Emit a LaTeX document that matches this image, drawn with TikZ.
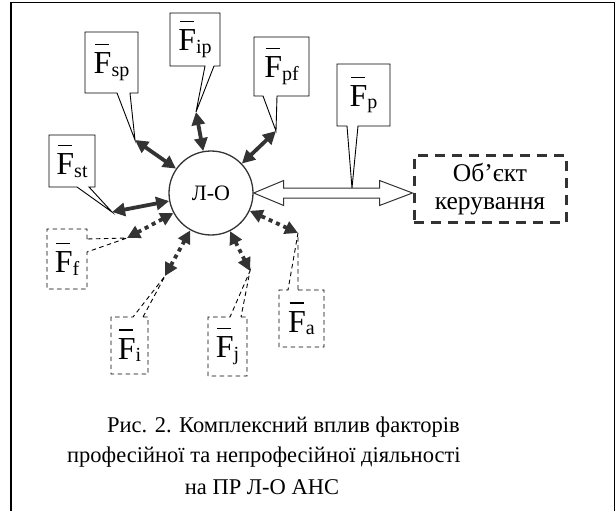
\documentclass[tikz,border=0pt]{standalone}
\usepackage{fontspec}
\setmainfont{Liberation Serif}
\usetikzlibrary{arrows.meta,calc}
\definecolor{dk}{HTML}{333333}
\newcommand{\Fl}[1]{\makebox[0pt][l]{\hspace{1.5pt}\raisebox{28.5pt}{\rule{14pt}{1.2pt}}}F\raisebox{-2.5pt}{\fontsize{20}{20}\selectfont #1}}
\begin{document}
\begin{tikzpicture}[x=1pt,y=-1pt,
  fbox/.style={inner sep=0pt, outer sep=0pt, font=\fontsize{32}{32}\selectfont},
  solidline/.style={draw=black, line width=0.9pt, line join=miter},
  dashline/.style={draw=black, line width=0.9pt, dash pattern=on 4.5pt off 3.5pt},
  biarrow/.style={draw=dk, line width=3.8pt, {Triangle[length=13pt,width=13pt]}-{Triangle[length=13pt,width=13pt]}},
  dotarrow/.style={biarrow, dash pattern=on 4pt off 4pt},
  captxt/.style={inner sep=0pt, font=\fontsize{22.5}{22.5}\selectfont}
]
\useasboundingbox (0,0) rectangle (616,511);
% frame
\draw[line width=1.6pt, black] (11,511) -- (11,2.5) -- (614.5,2.5) -- (614.5,511);

% central node
\node[circle, draw=dk, line width=1.3pt, minimum size=84pt, inner sep=0pt, font=\fontsize{22}{22}\selectfont] (LO) at (211,193) {Л-О};

% object node
\node[draw=dk, line width=3pt, dash pattern=on 10pt off 7pt, minimum width=152pt, minimum height=67pt, inner sep=0pt, align=center, font=\fontsize{25.5}{28.5}\selectfont] (obj) at (490,189) {Об’єкт\\керування};

% hollow double arrow
\coordinate (aL) at (LO.east);
\coordinate (aR) at (obj.west |- LO.east);
\draw[dk, line width=1pt, fill=white] (aL) -- ($(aL)+(30,-12.5)$) -- ($(aL)+(30,-5)$) -- ($(aR)+(-33,-5)$) -- ($(aR)+(-33,-12.5)$) -- (aR) -- ($(aR)+(-33,12.5)$) -- ($(aR)+(-33,5)$) -- ($(aL)+(30,5)$) -- ($(aL)+(30,12.5)$) -- cycle;

% solid callouts
\node[fbox, minimum width=53pt, minimum height=61pt] (Fsp) at (111.5,62.5) {\Fl{sp}};
\coordinate (tsp) at (135,140);
\draw[solidline] ($(Fsp.south west)+(32,0)$) -- (Fsp.south west) -- (Fsp.north west) -- (Fsp.north east) -- (Fsp.south east) -- ($(Fsp.south west)+(45,0)$) -- (tsp) -- cycle;

\node[fbox, minimum width=50pt, minimum height=53pt] (Fip) at (195,39.5) {\Fl{ip}};
\coordinate (tip) at (196,112);
\draw[solidline] ($(Fip.south west)+(35,0)$) -- (Fip.south west) -- (Fip.north west) -- (Fip.north east) -- (Fip.south east) -- ($(Fip.south west)+(44,0)$) -- (tip) -- cycle;

\node[fbox, minimum width=55pt, minimum height=59pt] (Fpf) at (281.5,66.5) {\Fl{pf}};
\coordinate (tpf) at (276,131);
\draw[solidline] ($(Fpf.south west)+(9,0)$) -- (Fpf.south west) -- (Fpf.north west) -- (Fpf.north east) -- (Fpf.south east) -- ($(Fpf.south west)+(23,0)$) -- (tpf) -- cycle;

\node[fbox, minimum width=46pt, minimum height=52pt] (Fst) at (72,161) {\Fl{st}};
\coordinate (tst) at (112,212);
\draw[solidline] ($(Fst.south west)+(28,0)$) -- (Fst.south west) -- (Fst.north west) -- (Fst.north east) -- (Fst.south east) -- ($(Fst.south west)+(40,0)$) -- (tst) -- cycle;

\node[fbox, minimum width=53pt, minimum height=62pt] (Fp) at (363.5,95) {\Fl{p}};
\coordinate (tp) at (352,188);
\draw[solidline] ($(Fp.south west)+(10,0)$) -- (Fp.south west) -- (Fp.north west) -- (Fp.north east) -- (Fp.south east) -- ($(Fp.south west)+(21,0)$) -- (tp) -- cycle;

% dashed callouts
\node[fbox, minimum width=40pt, minimum height=60pt] (Ff) at (67,259) {\Fl{f}};
\coordinate (tf) at (127,238);
\draw[dashline] ($(Ff.north east)+(0,10)$) -- (Ff.north east) -- (Ff.north west) -- (Ff.south west) -- (Ff.south east) -- ($(Ff.north east)+(0,23)$) -- (tf) -- cycle;

\node[fbox, minimum width=37pt, minimum height=57pt] (Fi) at (129.5,345.5) {\Fl{i}};
\coordinate (ti) at (165,276);
\draw[dashline] ($(Fi.north west)+(32,0)$) -- (Fi.north east) -- (Fi.south east) -- (Fi.south west) -- (Fi.north west) -- ($(Fi.north west)+(22,0)$) -- (ti) -- cycle;

\node[fbox, minimum width=39pt, minimum height=59pt] (Fj) at (227.5,346.5) {\Fl{j}};
\coordinate (tj) at (250,271);
\draw[dashline] ($(Fj.north west)+(33,0)$) -- (Fj.north east) -- (Fj.south east) -- (Fj.south west) -- (Fj.north west) -- ($(Fj.north west)+(22,0)$) -- (tj) -- cycle;

\node[fbox, minimum width=45pt, minimum height=57pt] (Fa) at (301.5,318.5) {\Fl{a}};
\coordinate (ta) at (298,233);
\draw[dashline] ($(Fa.north west)+(19,0)$) -- (Fa.north east) -- (Fa.south east) -- (Fa.south west) -- (Fa.north west) -- ($(Fa.north west)+(9,0)$) -- (ta) -- cycle;

% arrows
\draw[biarrow] (tsp) -- (LO);
\draw[biarrow] (tip) -- (LO);
\draw[biarrow] (tpf) -- (LO);
\draw[biarrow] (tst) -- (LO);
\draw[dotarrow] (tf) -- (LO);
\draw[dotarrow] (ti) -- (LO);
\draw[dotarrow] (tj) -- (LO);
\draw[dotarrow] (ta) -- (LO);

% caption
\node[captxt, anchor=base west] (c1) at (107,432) {Рис. 2. Комплексний вплив факторів};
\node[captxt, anchor=base west] (c2) at (67,462) {професійної та непрофесійної діяльності};
\node[captxt, anchor=base] (c3) at (262,494) {на ПР Л-О АНС};
\end{tikzpicture}
\end{document}
